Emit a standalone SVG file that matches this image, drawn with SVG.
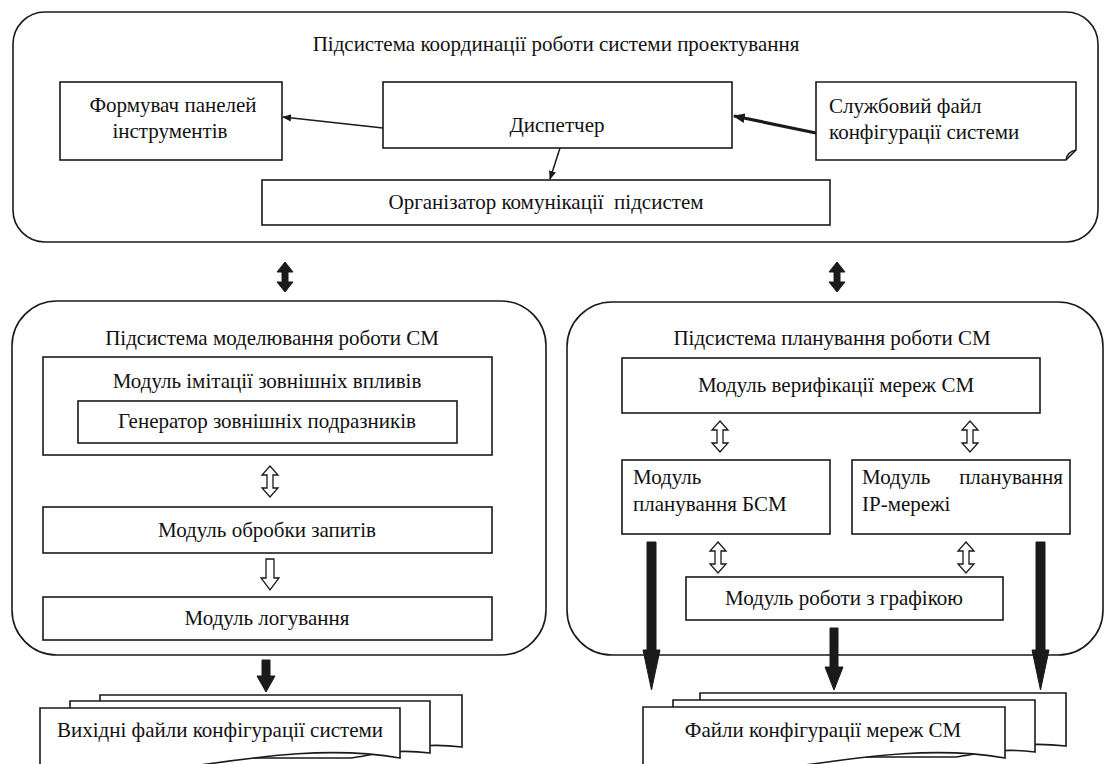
<svg xmlns="http://www.w3.org/2000/svg" width="1110" height="764" viewBox="0 0 1110 764">
<style>
.bx{fill:#fff;stroke:#1a1a1a;stroke-width:1.6}
.ct{fill:none;stroke:#1a1a1a;stroke-width:1.6}
.t{font-family:"Liberation Serif","Times New Roman",serif;font-size:21px;fill:#111;text-anchor:middle}
.tl{font-family:"Liberation Serif","Times New Roman",serif;font-size:21px;fill:#111}
.ln{fill:none;stroke:#1a1a1a;stroke-width:1.5}
.lnb{fill:none;stroke:#1a1a1a;stroke-width:3.2}
.solid{fill:#1a1a1a;stroke:#1a1a1a;stroke-width:1}
.hollow{fill:#fff;stroke:#1a1a1a;stroke-width:1.3}
</style>
<defs>
<marker id="ah" viewBox="0 0 10 10" refX="9" refY="5" markerWidth="9" markerHeight="9" markerUnits="userSpaceOnUse" orient="auto"><path d="M0,1 L10,5 L0,9 Z" fill="#1a1a1a"/></marker>
<marker id="ahb" viewBox="0 0 10 10" refX="9" refY="5" markerWidth="12" markerHeight="12" markerUnits="userSpaceOnUse" orient="auto"><path d="M0,1 L10,5 L0,9 Z" fill="#1a1a1a"/></marker>
<path id="dblSolid" d="M0,0 L8,10 L3,10 L3,20 L8,20 L0,30 L-8,20 L-3,20 L-3,10 L-8,10 Z"/>
<path id="dblHollow" d="M0,0 L8,9 L3,9 L3,22 L8,22 L0,31 L-8,22 L-3,22 L-3,9 L-8,9 Z"/>
<path id="downHollow" d="M-4,0 L4,0 L4,19 L9,19 L0,31 L-9,19 L-4,19 Z"/>
</defs>

<g id="coord-subsystem">
<rect class="ct" x="13" y="12" width="1085" height="230" rx="32"/>
<text class="t" x="556" y="51">Підсистема координації роботи системи проектування</text>
</g>
<g id="toolbar-builder">
<rect class="bx" x="60" y="82" width="222" height="78"/>
<text class="t" x="173" y="112">Формувач панелей</text>
<text class="t" x="170" y="138">інструментів</text>
</g>
<g id="dispatcher">
<rect class="bx" x="383" y="82" width="349" height="66"/>
<text class="t" x="557" y="132">Диспетчер</text>
</g>
<g id="service-config-file">
<path class="bx" d="M816,82 H1076 V150 L1066,160 H816 Z"/>
<path class="ln" d="M1066,160 Q1067,152 1076,150"/>
<text class="tl" x="829" y="113">Службовий файл</text>
<text class="tl" x="829" y="139">конфігурації системи</text>
</g>
<g id="comm-organizer">
<rect class="bx" x="262" y="180" width="568" height="45"/>
<text class="t" x="546" y="209" xml:space="preserve">Організатор комунікації  підсистем</text>
</g>

<g id="modeling-subsystem">
<rect class="ct" x="12" y="301" width="534" height="354" rx="45"/>
<text class="t" x="272" y="345">Підсистема моделювання роботи СМ</text>
</g>
<g id="imitation-module">
<rect class="bx" x="43" y="357" width="449" height="98"/>
<text class="t" x="267" y="388">Модуль імітації зовнішніх впливів</text>
</g>
<g id="stimulus-generator">
<rect class="bx" x="78" y="401" width="379" height="42"/>
<text class="t" x="267" y="428">Генератор зовнішніх подразників</text>
</g>
<g id="request-module">
<rect class="bx" x="43" y="507" width="449" height="46"/>
<text class="t" x="267" y="537">Модуль обробки запитів</text>
</g>
<g id="logging-module">
<rect class="bx" x="43" y="597" width="449" height="43"/>
<text class="t" x="267" y="625">Модуль логування</text>
</g>

<g id="planning-subsystem">
<rect class="ct" x="567" y="302" width="536" height="353" rx="45"/>
<text class="t" x="832" y="345">Підсистема планування роботи СМ</text>
</g>
<g id="verification-module">
<rect class="bx" x="622" y="358" width="418" height="55"/>
<text class="t" x="836" y="392">Модуль верифікації мереж СМ</text>
</g>
<g id="bsm-planning">
<rect class="bx" x="622" y="460" width="208" height="74"/>
<text class="tl" x="633" y="484">Модуль</text>
<text class="tl" x="633" y="511">планування БСМ</text>
</g>
<g id="ip-planning">
<rect class="bx" x="852" y="460" width="218" height="74"/>
<text class="tl" x="862" y="484">Модуль</text>
<text class="tl" x="1063" y="484" text-anchor="end">планування</text>
<text class="tl" x="862" y="511">IP-мережі</text>
</g>
<g id="graphics-module">
<rect class="bx" x="686" y="577" width="317" height="43"/>
<text class="t" x="844" y="605">Модуль роботи з графікою</text>
</g>

<g id="output-config-files">
<path class="bx" d="M100,695 H462 V747 C420,742 400,750 380,752 L100,752 Z"/>
<path class="bx" d="M70,701 H430 V753 C390,748 370,756 350,758 L70,758 Z"/>
<path class="bx" d="M40,708 H400 V758 C320,744 240,760 150,772 C110,777 70,776 40,774 Z"/>
<text class="t" x="220" y="737">Вихідні файли конфігурації системи</text>
</g>
<g id="network-config-files">
<path class="bx" d="M700,693 H1066 V746 C1020,741 1000,749 980,751 L700,751 Z"/>
<path class="bx" d="M673,700 H1035 V752 C995,747 975,755 955,757 L673,757 Z"/>
<path class="bx" d="M643,707 H1005 V758 C925,744 845,760 755,772 C715,777 675,776 643,774 Z"/>
<text class="t" x="823" y="737">Файли конфігурації мереж СМ</text>
</g>

<g id="connectors">
<line class="ln" x1="383" y1="128" x2="283" y2="117" marker-end="url(#ah)"/>
<line class="lnb" x1="816" y1="133" x2="734" y2="116" marker-end="url(#ahb)"/>
<line class="ln" x1="560" y1="148" x2="550" y2="179" marker-end="url(#ah)"/>
<use href="#dblSolid" class="solid" transform="translate(285,262)"/>
<use href="#dblSolid" class="solid" transform="translate(837,262)"/>
<use href="#dblHollow" class="hollow" transform="translate(270,466)"/>
<use href="#downHollow" class="hollow" transform="translate(270,559)"/>
<use href="#dblHollow" class="hollow" transform="translate(720,421)"/>
<use href="#dblHollow" class="hollow" transform="translate(970,421)"/>
<use href="#dblHollow" class="hollow" transform="translate(718,542)"/>
<use href="#dblHollow" class="hollow" transform="translate(966,542)"/>
<path class="solid" d="M262,660 H270 V676 H275 L266,692 L257,676 H262 Z"/>
<path class="solid" d="M647,542 H656 V650 H660 L651.5,690 L643,650 H647 Z"/>
<path class="solid" d="M1036,542 H1045 V650 H1049 L1040.5,690 L1032,650 H1036 Z"/>
<path class="solid" d="M830,628 H838 V667 H843 L834,690 L825,667 H830 Z"/>
</g>
</svg>
